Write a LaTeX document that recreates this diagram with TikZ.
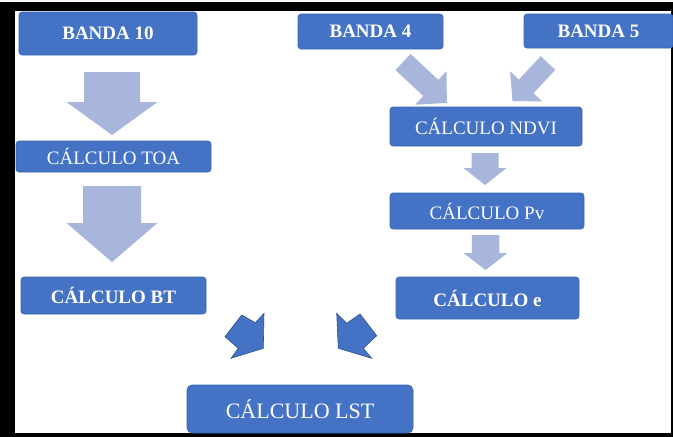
\documentclass[tikz,border=0pt]{standalone}
\usepackage{fontspec}
\setmainfont{Liberation Serif}
\usepackage{tikz}
\definecolor{boxblue}{RGB}{68,114,196}
\definecolor{boxedge}{RGB}{60,102,178}
\definecolor{lightarr}{RGB}{168,182,220}
\definecolor{darkedge}{RGB}{47,82,143}
\usetikzlibrary{positioning}

% block arrow: tail point, angle, length, head length, shaft width, head width, colour
\newcommand{\blockarr}[7]{%
  \fill[#7, shift={(#1)}, rotate=#2]
    (0pt,{-0.5*#5pt}) -- ({#3pt-#4pt},{-0.5*#5pt}) -- ({#3pt-#4pt},{-0.5*#6pt})
    -- (#3pt,0pt) -- ({#3pt-#4pt},{0.5*#6pt}) -- ({#3pt-#4pt},{0.5*#5pt})
    -- (0pt,{0.5*#5pt}) -- cycle;}

\tikzset{
  box/.style={fill=boxblue, draw=boxedge, line width=0.6pt, rounded corners=3pt,
    text=white, inner sep=0pt, font=\fontsize{19}{22}\selectfont},
  bigbox/.style={box, rounded corners=5pt, font=\fontsize{22}{26}\selectfont},
  darkarr/.style={fill=boxblue, draw=darkedge, line width=0.6pt}
}

\begin{document}
\begin{tikzpicture}
\useasboundingbox (0pt,0pt) rectangle (673pt,-437pt);
% frame
\fill [black] (0pt,-2pt) rectangle (673pt,-437pt);
\fill [white] (14.5pt,-11pt) rectangle (671pt,-433pt);

% boxes
\node (b10) [box, minimum width=178pt, minimum height=43pt] at (108pt,-33.5pt) {\textbf{BANDA 10}};
\node (b4) [box, minimum width=145pt, minimum height=35pt] at (370.5pt,-31.5pt) {\textbf{BANDA 4}};
\node (b5) [box, minimum width=149pt, minimum height=34pt] at (598.5pt,-31pt) {\textbf{BANDA 5}};
\node (toa) [box, minimum width=195pt, minimum height=31pt] at (113.5pt,-156.5pt) {CÁLCULO TOA};
\node (bt) [box, minimum width=185pt, minimum height=37pt] at (113.5pt,-295.5pt) {\textbf{CÁLCULO BT}};
\node (ndvi) [box, minimum width=192pt, minimum height=39pt] at (486pt,-126.5pt) {CÁLCULO NDVI};
\node (pv) [box, minimum width=194pt, minimum height=36pt] at (487pt,-211pt) {CÁLCULO Pv};
\node (e) [box, minimum width=183pt, minimum height=42pt] at (487.5pt,-298pt) {\textbf{CÁLCULO e}};
\node (lst) [bigbox, minimum width=226pt, minimum height=48pt] at (300pt,-409pt) {CÁLCULO LST};

% light arrows
\coordinate (t1) at (112pt,-72pt);
\coordinate (t2) at (112pt,-186pt);
\coordinate (t3) at (485pt,-153pt);
\coordinate (t4) at (485.5pt,-235pt);
\coordinate (t5) at (403pt,-62pt);
\coordinate (t6) at (548pt,-63pt);
\blockarr{t1}{-90}{63}{33}{56}{91}{lightarr}
\blockarr{t2}{-90}{76}{39}{58}{91}{lightarr}
\blockarr{t3}{-90}{32}{17}{27}{43}{lightarr}
\blockarr{t4}{-90}{35}{17}{27.5}{44}{lightarr}
\blockarr{t5}{-43}{60}{22}{22}{46}{lightarr}
\blockarr{t6}{-133}{52}{20}{20}{44}{lightarr}

% dark arrows towards LST
\filldraw [darkarr] (241.7pt,-315pt) -- (255.3pt,-322.7pt) -- (264pt,-313.3pt) -- (263.3pt,-348.3pt)
  -- (231pt,-358.3pt) -- (238.3pt,-348.3pt) -- (225pt,-336.7pt) -- cycle;
\filldraw [darkarr] (336.7pt,-313.3pt) -- (346.7pt,-323.3pt) -- (360pt,-314pt) -- (376.7pt,-335.7pt)
  -- (363.3pt,-348.3pt) -- (371.7pt,-358.3pt) -- (338.3pt,-348.3pt) -- cycle;
\end{tikzpicture}
\end{document}
